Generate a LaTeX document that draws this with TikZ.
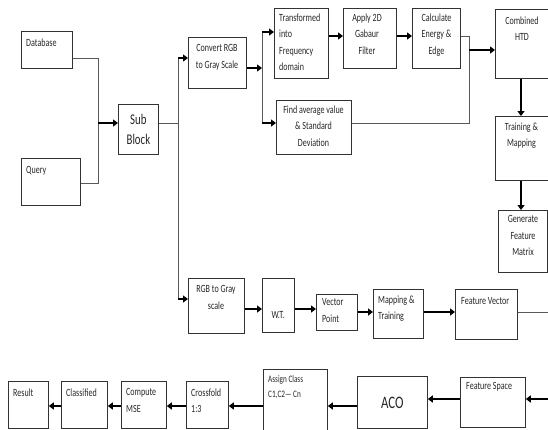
\documentclass[tikz,border=0pt]{standalone}
\usepackage{fontspec}
\setmainfont[FakeStretch=0.73]{Carlito}
\usetikzlibrary{arrows.meta}
\newcommand\bx[5]{%
  \pgfmathsetmacro\bxw{#4-#2}\pgfmathsetmacro\bxh{#5-#3}%
  \node[box, anchor=north west, minimum width=\bxw pt, minimum height=\bxh pt] (#1) at (#2,#3) {};}
\begin{document}
\begin{tikzpicture}[x=1pt,y=-1pt,
  box/.style={draw=black!80, line width=0.8pt, inner sep=0pt},
  lbl/.style={inner sep=0pt, font=\fontsize{11}{16.5}\selectfont, text=black!85},
  thinline/.style={draw=black!65, line width=0.9pt},
  thickarrow/.style={draw=black, line width=2pt, -{Triangle[length=5pt,width=7pt]}},
]
\useasboundingbox (0,0) rectangle (548,429);
% boxes
\bx{db}{21}{31}{72}{68}
\bx{q}{21}{158}{80}{205}
\node[box, anchor=north west, minimum width=40pt, minimum height=50pt, align=center,
      font=\fontsize{14.8}{20}\selectfont, text=black!85] (sb) at (118,104) {Sub\\Block};
\bx{cv}{188}{37}{246}{88}
\bx{tf}{274}{8}{328}{78}
\bx{gb}{343}{8}{396}{68}
\bx{ce}{412}{8}{460}{68}
\bx{fa}{276}{100}{351}{154}
\bx{ch}{495}{9}{550}{78}
\bx{tm}{495}{116}{550}{180}
\bx{gf}{498}{210}{547}{272}
\bx{rg}{188}{278}{244}{333}
\bx{wt}{262}{278}{294}{332}
\bx{vp}{316}{294}{357}{330}
\bx{mt}{373}{289}{423}{338}
\bx{fv}{455}{289}{517}{339}
\bx{fs}{460}{377}{525}{427}
\node[box, anchor=north west, minimum width=70pt, minimum height=52pt,
      font=\fontsize{17.5}{19}\selectfont, text=black!85] (aco) at (357,376) {ACO};
\bx{ac}{263}{369}{327}{432}
\bx{cf}{186}{381}{228}{428}
\bx{cm}{121}{381}{166}{428}
\bx{cl}{61}{381}{107}{428}
\bx{rs}{8}{381}{48}{428}
% texts
\node[lbl, anchor=north west] (t-db) at (26,38.5) {Database};
\node[lbl, anchor=north west] (t-q) at (26,166.5) {Query};
\node[lbl, anchor=north, align=center] (t-cv) at (217,44.5) {Convert RGB\\to Gray Scale};
\node[lbl, anchor=north west, align=left] (t-tf) at (279,13.5) {Transformed\\into\\Frequency\\domain};
\node[lbl, anchor=north, align=center] (t-gb) at (367,13.5) {Apply 2D\\Gabaur\\Filter};
\node[lbl, anchor=north, align=center] (t-ce) at (436.5,13.5) {Calculate\\Energy \&\\Edge};
\node[lbl, anchor=north, align=center] (t-fa) at (313.5,105.5) {Find average value\\\& Standard\\Deviation};
\node[lbl, anchor=north, align=center] (t-ch) at (522,16.5) {Combined\\HTD};
\node[lbl, anchor=north, align=center] (t-tm) at (521.5,122.5) {Training \&\\Mapping};
\node[lbl, anchor=north, align=center] (t-gf) at (523,215.5) {Generate\\Feature\\Matrix};
\node[lbl, anchor=north, align=center] (t-rg) at (216,285.5) {RGB to Gray\\scale};
\node[lbl, anchor=north] (t-wt) at (278,311.5) {W.T.};
\node[lbl, anchor=north west, align=left] (t-vp) at (322,298.5) {Vector\\Point};
\node[lbl, anchor=north west, align=left] (t-mt) at (378,295.5) {Mapping \&\\Training};
\node[lbl, anchor=north west] (t-fv) at (461,297.5) {Feature Vector};
\node[lbl, anchor=north west] (t-fs) at (466,382.5) {Feature Space};
\node[lbl, anchor=north west, align=left, font=\fontsize{9.9}{15}\selectfont] (t-ac) at (268,375.5) {Assign Class\\C1,C2--- Cn};
\node[lbl, anchor=north west, align=left] (t-cf) at (191,388.5) {Crossfold\\1:3};
\node[lbl, anchor=north west, align=left] (t-cm) at (126,388.5) {Compute\\MSE};
\node[lbl, anchor=north west] (t-cl) at (66,388.5) {Classified};
\node[lbl, anchor=north west] (t-rs) at (13,388.5) {Result};
% connectors
\coordinate (j1) at (98,58); \coordinate (j2) at (98,183); \coordinate (j3) at (98,123);
\draw[thinline] (db.east |- j1) -- (j1) -- (j2) -- (q.east |- j2);
\draw[thickarrow] (j3) -- (sb.west |- j3);
\coordinate (k0) at (178,123); \coordinate (k1) at (178,58); \coordinate (k2) at (178,299);
\draw[thinline] (sb.east |- k0) -- (k0);
\draw[thinline] (k1) -- (k2);
\draw[thickarrow] (k1) -- (cv.west |- k1);
\draw[thickarrow] (k2) -- (rg.west |- k2);
\coordinate (m0) at (262,68); \coordinate (m1) at (262,32); \coordinate (m2) at (262,123);
\draw[thickarrow] (cv.east |- m0) -- (m0);
\draw[thinline] (m1) -- (m2);
\draw[thickarrow] (m1) -- (tf.west |- m1);
\draw[thickarrow] (m2) -- (fa.west |- m2);
\coordinate (r1) at (0,36);
\draw[thickarrow] (tf.east |- r1) -- (gb.west |- r1);
\draw[thickarrow] (gb.east |- r1) -- (ce.west |- r1);
\coordinate (n1) at (469,36); \coordinate (n2) at (469,123); \coordinate (n3) at (469,50);
\draw[thinline] (ce.east |- n1) -- (n1) -- (n2) -- (fa.east |- n2);
\draw[thickarrow] (n3) -- (ch.west |- n3);
\coordinate (v) at (521,0);
\draw[thickarrow] (ch.south -| v) -- (tm.north -| v);
\draw[thickarrow] (tm.south -| v) -- (gf.north -| v);
\coordinate (b1) at (0,309); \coordinate (b2) at (0,312);
\draw[thickarrow] (rg.east |- b1) -- (wt.west |- b1);
\draw[thickarrow] (wt.east |- b1) -- (vp.west |- b1);
\draw[thickarrow] (vp.east |- b2) -- (mt.west |- b2);
\draw[thickarrow] (mt.east |- b2) -- (fv.west |- b2);
\coordinate (fvend) at (548,312);
\draw[thinline] (fv.east |- b2) -- (fvend);
\coordinate (fsin) at (548,399);
\draw[thickarrow] (fsin) -- (fs.east |- fsin);
\draw[thickarrow] (fs.west |- fsin) -- (aco.east |- fsin);
\coordinate (c1) at (0,406);
\draw[thickarrow] (aco.west |- c1) -- (ac.east |- c1);
\draw[thickarrow] (ac.west |- c1) -- (cf.east |- c1);
\draw[thickarrow] (cf.west |- c1) -- (cm.east |- c1);
\draw[thickarrow] (cm.west |- c1) -- (cl.east |- c1);
\draw[thickarrow] (cl.west |- c1) -- (rs.east |- c1);
\end{tikzpicture}
\end{document}
